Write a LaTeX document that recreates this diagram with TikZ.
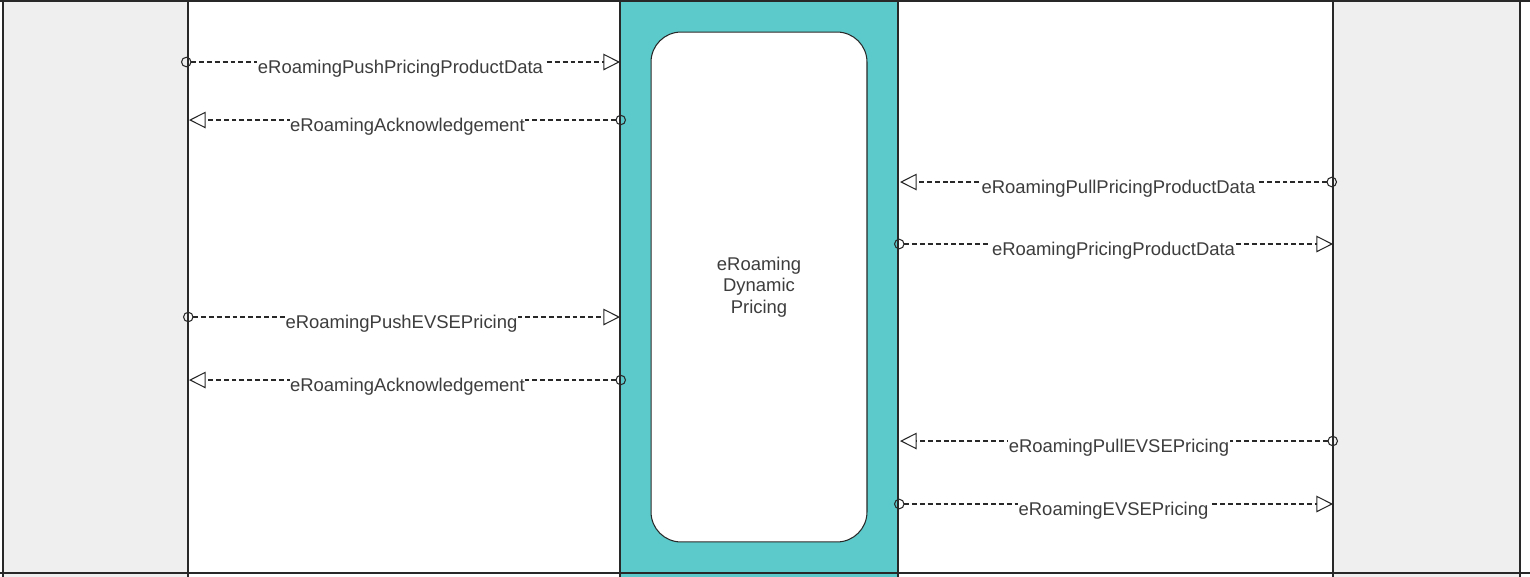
\documentclass[tikz,border=0pt]{standalone}
\usepackage{fontspec}
\setmainfont{Liberation Sans}
\usetikzlibrary{arrows.meta}
\definecolor{lanegray}{RGB}{239,239,239}
\definecolor{hubteal}{RGB}{92,201,202}
\definecolor{edgegray}{RGB}{40,40,40}

\tikzset{
  msg/.style={line width=0.6pt, dash pattern=on 2.8pt off 1.7pt, draw=edgegray,
              {Circle[open,length=6pt]}-{Triangle[open,length=9.5pt,width=9.5pt]}},
  msglabel/.style={fill=white, inner sep=0.3pt, yshift=-3.6pt,
                   font=\fontsize{10.5pt}{12pt}\selectfont, text=edgegray!90},
  service/.style={draw=edgegray, fill=white, line width=0.6pt, rounded corners=0.6cm,
                  minimum width=4.32cm, minimum height=10.2cm, align=center,
                  font=\fontsize{10.5pt}{12.2pt}\selectfont, text=edgegray!90}
}

\begin{document}
\begin{tikzpicture}[x=0.02cm, y=-0.02cm]
  % Canvas is in pixels, (0,0) at the top left
  \clip (0,0) rectangle (1530,576);
  \useasboundingbox (0,0) rectangle (1530,576);

  % Draw the lanes
  \draw[edgegray, line width=0.8pt, fill=lanegray] (3,-5) rectangle (188,590);
  \draw[edgegray, line width=0.8pt, fill=white] (188,-5) rectangle (620,590);
  \draw[edgegray, line width=0.8pt, fill=hubteal] (620,-5) rectangle (898,590);
  \draw[edgegray, line width=0.8pt, fill=white] (898,-5) rectangle (1333,590);
  \draw[edgegray, line width=0.8pt, fill=lanegray] (1333,-5) rectangle (1520,590);

  % Draw the top and bottom borders
  \draw[edgegray, line width=0.9pt] (0,1) -- (1530,1);
  \draw[edgegray, line width=0.9pt] (0,573) -- (1530,573);

  % Draw the service box
  \node[service] (dynpricing) at (759,287) {eRoaming\\Dynamic\\Pricing};

  % Draw the messages
  \foreach \i/\ya/\xs/\xe/\lbl in {
      1/62/181/620/eRoamingPushPricingProductData,
      2/120/626/189/eRoamingAcknowledgement,
      3/182/1337/900/eRoamingPullPricingProductData,
      4/244/894/1333/eRoamingPricingProductData,
      5/317/183/620/eRoamingPushEVSEPricing,
      6/380/626/189/eRoamingAcknowledgement,
      7/441/1338/900/eRoamingPullEVSEPricing,
      8/504/894/1333/eRoamingEVSEPricing}
  {
    \coordinate (msg\i-src) at (\xs,\ya);
    \coordinate (msg\i-dst) at (\xe,\ya);
    \draw[msg] (msg\i-src) -- node[msglabel] {\lbl} (msg\i-dst);
  }
\end{tikzpicture}
\end{document}
